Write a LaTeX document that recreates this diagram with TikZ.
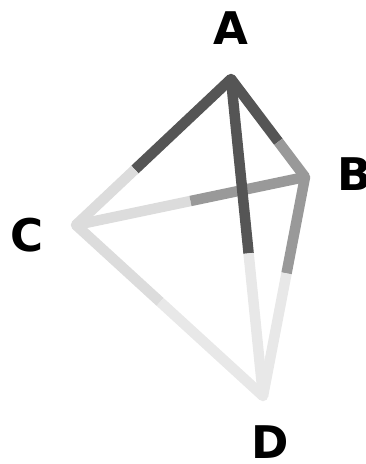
\documentclass[tikz,border=0pt]{standalone}
\usepackage{fontspec}
\setmainfont{DejaVu Sans}
\usetikzlibrary{calc}
\definecolor{cA}{HTML}{555555}
\definecolor{cB}{HTML}{999999}
\definecolor{cC}{HTML}{DCDCDC}
\definecolor{cD}{HTML}{E8E8E8}
\tikzset{
  edgeseg/.style={line width=10.5pt, line cap=butt},
  vdot/.style={circle, inner sep=0pt, minimum size=10.5pt},
  vlabel/.style={font=\fontsize{45}{45}\selectfont\bfseries, text=black, inner sep=0pt}
}
\begin{document}
\begin{tikzpicture}[x=1pt,y=-1pt]
\useasboundingbox (0,0) rectangle (366,464);
\coordinate (A) at (231,79);
\coordinate (B) at (305,177);
\coordinate (C) at (76,225);
\coordinate (D) at (263,396);
\coordinate (mAB) at ($(A)!0.64!(B)$);
\coordinate (mAC) at ($(A)!0.62!(C)$);
\coordinate (mCB) at ($(C)!0.50!(B)$);
\coordinate (mAD) at ($(A)!0.55!(D)$);
\coordinate (mBD) at ($(B)!0.44!(D)$);
\coordinate (mCD) at ($(C)!0.45!(D)$);
% C-D
\draw[edgeseg, cC] (C) -- (mCD);
\draw[edgeseg, cD] (mCD) -- (D);
% B-D
\draw[edgeseg, cB] (B) -- (mBD);
\draw[edgeseg, cD] (mBD) -- (D);
% C-B
\draw[edgeseg, cC] (C) -- (mCB);
\draw[edgeseg, cB] (mCB) -- (B);
% A-C
\draw[edgeseg, cA] (A) -- (mAC);
\draw[edgeseg, cC] (mAC) -- (C);
% A-B
\draw[edgeseg, cA] (A) -- (mAB);
\draw[edgeseg, cB] (mAB) -- (B);
% A-D
\draw[edgeseg, cA] (A) -- (mAD);
\draw[edgeseg, cD] (mAD) -- (D);
% vertex dots
\node[vdot, fill=cD] (dD) at (D) {};
\node[vdot, fill=cC] (dC) at (C) {};
\node[vdot, fill=cB] (dB) at (B) {};
\node[vdot, fill=cA] (dA) at (A) {};
% labels
\node[vlabel] (lA) at (231,28) {A};
\node[vlabel] (lB) at (355,174) {B};
\node[vlabel] (lC) at (27,235) {C};
\node[vlabel] (lD) at (270,442) {D};
\end{tikzpicture}
\end{document}
